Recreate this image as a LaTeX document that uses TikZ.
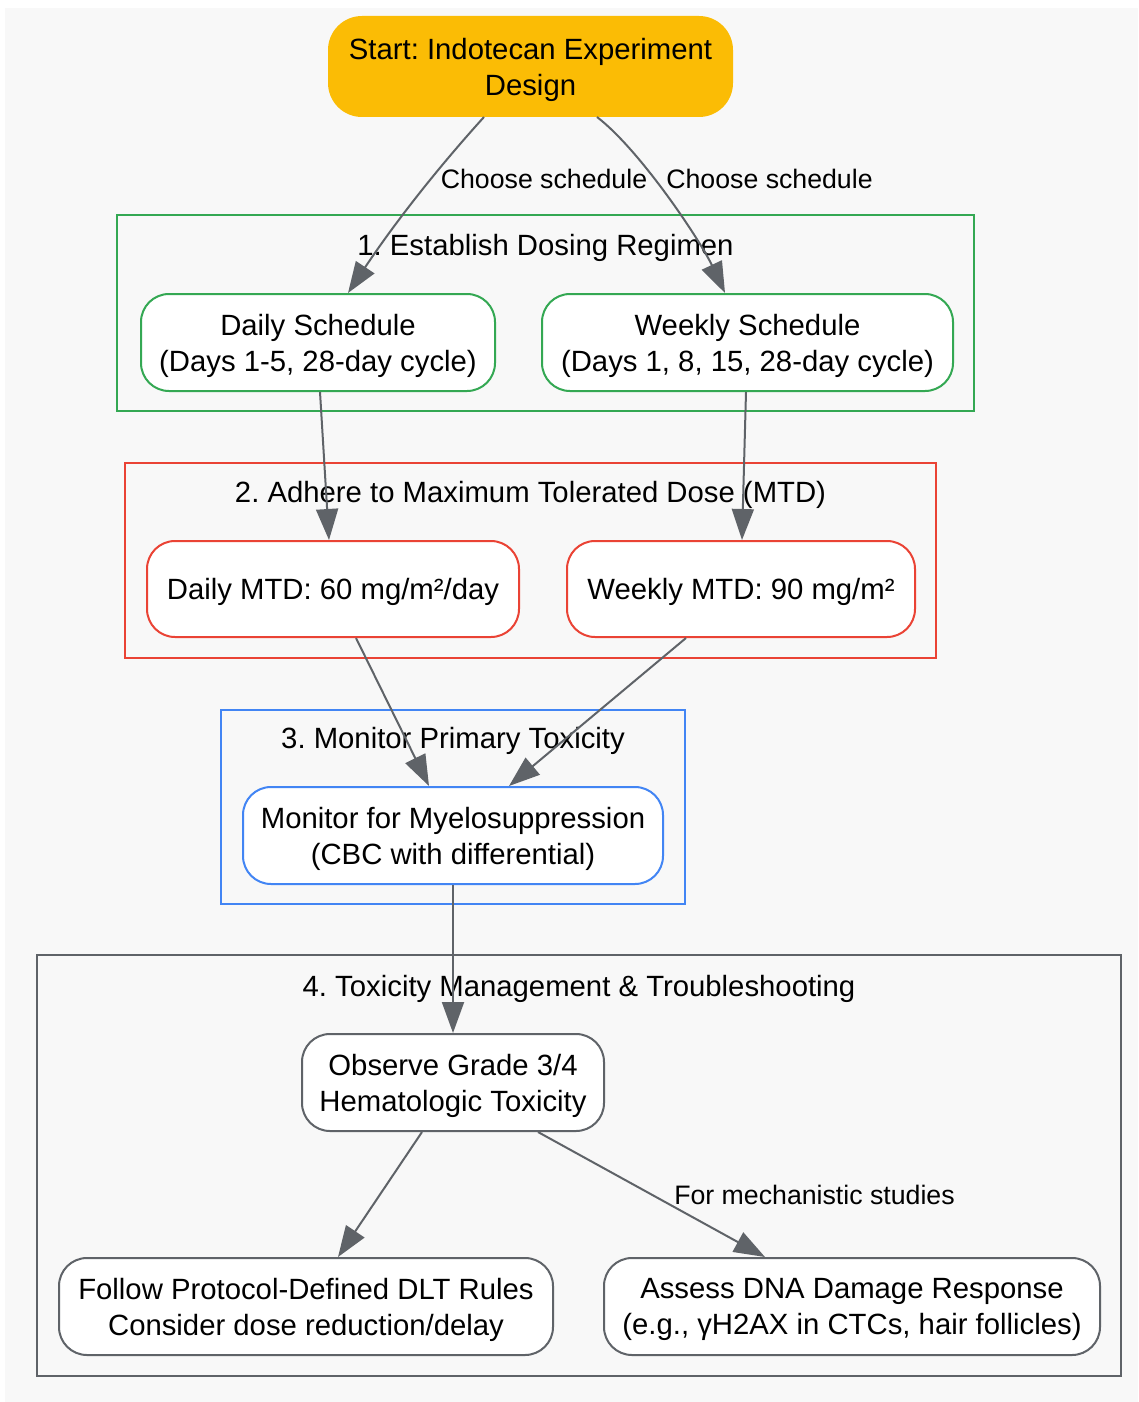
\documentclass[tikz,border=0pt]{standalone}
\usepackage{fontspec}
\setmainfont{Liberation Sans}
\usetikzlibrary{arrows.meta,calc}
\frenchspacing
\definecolor{bgc}{HTML}{F8F8F8}
\definecolor{gyel}{HTML}{FBBC05}
\definecolor{ggreen}{HTML}{34A853}
\definecolor{gred}{HTML}{EA4335}
\definecolor{gblue}{HTML}{4285F4}
\definecolor{ggray}{HTML}{5F6368}
\tikzset{
  box/.style={draw, line width=2pt, fill=white, rounded corners=28pt, align=center,
    inner sep=0pt, text depth=0pt, font=\fontsize{29.3}{36}\selectfont, text=black},
  cluster/.style={draw, line width=2pt, rectangle, inner sep=0pt},
  clabel/.style={font=\fontsize{29.3}{36}\selectfont, text=black, inner sep=0pt, text depth=0pt},
  elabel/.style={font=\fontsize{26.7}{32}\selectfont, text=black, inner sep=0pt},
  edge/.style={draw=ggray, line width=2pt, -{Triangle[length=31pt,width=22pt]}},
}
\begin{document}
\begin{tikzpicture}[x=1pt,y=-1pt]
\useasboundingbox (0,0) rectangle (1138,1402);
\fill[bgc] (5,8) rectangle (1138,1402);

% clusters
\node[cluster, draw=ggreen, minimum width=857pt, minimum height=196pt] (c1) at (545.5,313) {};
\node[clabel] (c1l) at (545.5,245) {1. Establish Dosing Regimen};
\node[cluster, draw=gred, minimum width=811pt, minimum height=195pt] (c2) at (530.5,560.5) {};
\node[clabel] (c2l) at (530.5,492) {2. Adhere to Maximum Tolerated Dose (MTD)};
\node[cluster, draw=gblue, minimum width=464pt, minimum height=194pt] (c3) at (453,807) {};
\node[clabel] (c3l) at (453,738) {3. Monitor Primary Toxicity};
\node[cluster, draw=ggray, minimum width=1084pt, minimum height=421pt] (c4) at (579,1165.5) {};
\node[clabel] (c4l) at (579,986) {4. Toxicity Management \& Troubleshooting};

% nodes
\node[box, draw=gyel, fill=gyel, rounded corners=33pt, minimum width=403pt, minimum height=99pt] (start) at (530.5,66.5) {Start: Indotecan Experiment\\Design};
\node[box, draw=ggreen, minimum width=354pt, minimum height=97pt] (daily) at (318,342.5) {Daily Schedule\\(Days 1-5, 28-day cycle)};
\node[box, draw=ggreen, minimum width=411pt, minimum height=97pt] (weekly) at (747.5,342.5) {Weekly Schedule\\(Days 1, 8, 15, 28-day cycle)};
\node[box, draw=gred, minimum width=372pt, minimum height=96pt] (dmtd) at (333,589) {Daily MTD: 60 mg/m²/day};
\node[box, draw=gred, minimum width=348pt, minimum height=96pt] (wmtd) at (741,589) {Weekly MTD: 90 mg/m²};
\node[box, draw=gblue, minimum width=420pt, minimum height=97pt] (mon) at (453,835.5) {Monitor for Myelosuppression\\(CBC with differential)};
\node[box, draw=ggray, minimum width=302pt, minimum height=97pt] (obs) at (453,1082.5) {Observe Grade 3/4\\Hematologic Toxicity};
\node[box, draw=ggray, minimum width=494pt, minimum height=97pt] (fol) at (306,1306.5) {Follow Protocol-Defined DLT Rules\\Consider dose reduction/delay};
\node[box, draw=ggray, minimum width=496pt, minimum height=97pt] (ass) at (852,1306.5) {Assess DNA Damage Response\\(e.g., γH2AX in CTCs, hair follicles)};

% edge labels
\node[elabel] (l1) at (544,179) {Choose schedule};
\node[elabel] (l2) at (769.5,179) {Choose schedule};
\node[elabel] (l3) at (814.5,1195) {For mechanistic studies};

% edges
\draw[edge] ($(start.south)+(-46.5,0)$) .. controls (445,160) and (400,215) .. ($(daily.north)+(30,0)$);
\draw[edge] ($(start.south)+(66.5,0)$) .. controls (640,150) and (700,240) .. ($(weekly.north)+(-22.5,0)$);
\draw[edge] ($(daily.south)+(2,0)$) -- ($(dmtd.north)+(-4,0)$);
\draw[edge] ($(weekly.south)+(-1.5,0)$) -- ($(wmtd.north)+(1,0)$);
\draw[edge] ($(dmtd.south)+(23,0)$) -- ($(mon.north)+(-24,0)$);
\draw[edge] ($(wmtd.south)+(-55,0)$) -- ($(mon.north)+(56,0)$);
\draw[edge] (mon.south) -- (obs.north);
\draw[edge] ($(obs.south)+(-31,0)$) -- ($(fol.north)+(32,0)$);
\draw[edge] ($(obs.south)+(85,0)$) -- ($(ass.north)+(-87,0)$);
\end{tikzpicture}
\end{document}
